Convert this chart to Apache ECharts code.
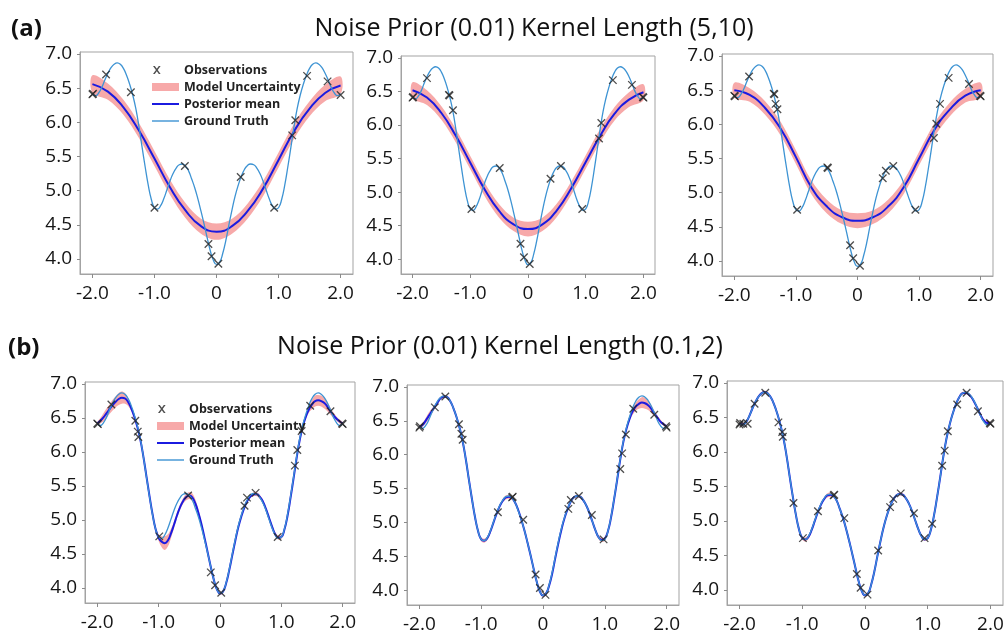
<!DOCTYPE html>
<html>
<head>
<meta charset="utf-8">
<script src="https://cdn.jsdelivr.net/npm/echarts@6/dist/echarts.min.js"></script>
<style>
  html, body { margin: 0; padding: 0; background: #ffffff; }
  #chart { width: 1008px; height: 634px; }
</style>
</head>
<body>
<div id="chart"></div>
<script>
// ---- data ----------------------------------------------------------------
// fine x grid used by the ground truth and the row (b) posterior curves
const xFine = [
  -2.00, -1.95, -1.90, -1.85, -1.80, -1.75, -1.70, -1.65, -1.60, -1.55,
  -1.50, -1.45, -1.40, -1.35, -1.30, -1.25, -1.20, -1.15, -1.10, -1.05,
  -1.00, -0.95, -0.90, -0.85, -0.80, -0.75, -0.70, -0.65, -0.60, -0.55,
  -0.50, -0.45, -0.40, -0.35, -0.30, -0.25, -0.20, -0.15, -0.10, -0.05,
   0.00,  0.05,  0.10,  0.15,  0.20,  0.25,  0.30,  0.35,  0.40,  0.45,
   0.50,  0.55,  0.60,  0.65,  0.70,  0.75,  0.80,  0.85,  0.90,  0.95,
   1.00,  1.05,  1.10,  1.15,  1.20,  1.25,  1.30,  1.35,  1.40,  1.45,
   1.50,  1.55,  1.60,  1.65,  1.70,  1.75,  1.80,  1.85,  1.90,  1.95, 2.00
];

const groundTruth = [
  6.42, 6.39, 6.43, 6.51, 6.62, 6.72, 6.80, 6.85, 6.87, 6.85,
  6.79, 6.69, 6.56, 6.40, 6.20, 5.94, 5.64, 5.35, 5.08, 4.87,
  4.75, 4.73, 4.78, 4.88, 5.01, 5.14, 5.25, 5.33, 5.38, 5.39,
  5.36, 5.29, 5.17, 5.04, 4.88, 4.70, 4.51, 4.31, 4.12, 3.98,
  3.92, 3.95, 4.08, 4.27, 4.50, 4.72, 4.92, 5.08, 5.21, 5.31,
  5.37, 5.39, 5.38, 5.33, 5.25, 5.14, 5.01, 4.88, 4.78, 4.73,
  4.75, 4.87, 5.08, 5.35, 5.64, 5.94, 6.20, 6.40, 6.56, 6.69,
  6.79, 6.85, 6.87, 6.85, 6.80, 6.72, 6.62, 6.51, 6.43, 6.39, 6.42
];

// coarse x grid for the long-kernel posteriors of row (a)
const xCoarse = [-2.0, -1.75, -1.5, -1.25, -1.0, -0.75, -0.5, -0.25, 0.0,
                 0.25, 0.5, 0.75, 1.0, 1.25, 1.5, 1.75, 2.0];

const meanA1  = [6.56, 6.45, 6.22, 5.88, 5.47, 5.05, 4.71, 4.48, 4.40, 4.48, 4.70, 5.03, 5.45, 5.87, 6.20, 6.43, 6.54];
const sigmaA1 = [0.13, 0.12, 0.11, 0.11, 0.11, 0.11, 0.11, 0.11, 0.12, 0.11, 0.11, 0.11, 0.11, 0.11, 0.11, 0.12, 0.13];
const meanA2  = [6.52, 6.41, 6.18, 5.84, 5.44, 5.04, 4.72, 4.52, 4.45, 4.52, 4.73, 5.06, 5.45, 5.84, 6.17, 6.38, 6.49];
const sigmaA2 = [0.12, 0.11, 0.10, 0.10, 0.10, 0.10, 0.10, 0.10, 0.11, 0.10, 0.10, 0.10, 0.10, 0.10, 0.10, 0.11, 0.12];
const meanA3  = [6.50, 6.43, 6.24, 5.94, 5.52, 5.08, 4.80, 4.64, 4.59, 4.64, 4.80, 5.08, 5.50, 5.92, 6.22, 6.42, 6.50];
const sigmaA3 = [0.11, 0.10, 0.10, 0.10, 0.10, 0.10, 0.10, 0.10, 0.11, 0.10, 0.10, 0.10, 0.10, 0.10, 0.10, 0.10, 0.11];

const meanB1 = [
  6.42, 6.46, 6.51, 6.57, 6.63, 6.69, 6.74, 6.78, 6.80, 6.79,
  6.74, 6.65, 6.53, 6.38, 6.19, 5.94, 5.65, 5.36, 5.09, 4.87,
  4.74, 4.68, 4.66, 4.70, 4.80, 4.93, 5.07, 5.19, 5.28, 5.34,
  5.36, 5.33, 5.24, 5.10, 4.93, 4.73, 4.52, 4.31, 4.12, 3.98,
  3.92, 3.95, 4.07, 4.26, 4.48, 4.70, 4.90, 5.06, 5.19, 5.29,
  5.35, 5.38, 5.38, 5.34, 5.27, 5.16, 5.03, 4.90, 4.79, 4.74,
  4.75, 4.86, 5.06, 5.33, 5.62, 5.92, 6.18, 6.38, 6.52, 6.63,
  6.70, 6.75, 6.76, 6.75, 6.72, 6.67, 6.60, 6.54, 6.49, 6.45, 6.42
];
const sigmaB1 = [
  0.02, 0.04, 0.06, 0.07, 0.07, 0.08, 0.08, 0.09, 0.09, 0.08,
  0.06, 0.04, 0.03, 0.02, 0.02, 0.02, 0.02, 0.02, 0.02, 0.03,
  0.05, 0.08, 0.10, 0.09, 0.07, 0.05, 0.04, 0.04, 0.04, 0.05,
  0.05, 0.06, 0.06, 0.05, 0.04, 0.03, 0.02, 0.02, 0.02, 0.02,
  0.02, 0.02, 0.02, 0.02, 0.02, 0.02, 0.02, 0.02, 0.02, 0.02,
  0.02, 0.03, 0.03, 0.03, 0.03, 0.03, 0.03, 0.03, 0.03, 0.03,
  0.03, 0.02, 0.02, 0.02, 0.02, 0.02, 0.02, 0.02, 0.03, 0.05,
  0.07, 0.08, 0.08, 0.08, 0.08, 0.07, 0.05, 0.04, 0.03, 0.03, 0.02
];
const meanB2 = [
  6.41, 6.44, 6.50, 6.57, 6.64, 6.71, 6.78, 6.84, 6.86, 6.85,
  6.79, 6.69, 6.56, 6.40, 6.20, 5.94, 5.64, 5.35, 5.08, 4.87,
  4.75, 4.73, 4.77, 4.87, 5.00, 5.13, 5.24, 5.32, 5.37, 5.38,
  5.36, 5.29, 5.18, 5.04, 4.88, 4.70, 4.51, 4.31, 4.12, 3.98,
  3.92, 3.95, 4.07, 4.25, 4.48, 4.70, 4.90, 5.07, 5.20, 5.31,
  5.37, 5.39, 5.38, 5.33, 5.25, 5.14, 5.01, 4.88, 4.78, 4.74,
  4.76, 4.87, 5.07, 5.34, 5.63, 5.93, 6.19, 6.38, 6.53, 6.64,
  6.71, 6.75, 6.77, 6.76, 6.73, 6.68, 6.61, 6.55, 6.49, 6.45, 6.42
];
const sigmaB2 = [
  0.02, 0.03, 0.04, 0.05, 0.04, 0.03, 0.03, 0.02, 0.02, 0.02,
  0.02, 0.02, 0.02, 0.02, 0.02, 0.02, 0.02, 0.02, 0.02, 0.02,
  0.03, 0.03, 0.03, 0.03, 0.02, 0.02, 0.02, 0.02, 0.03, 0.03,
  0.03, 0.02, 0.02, 0.02, 0.02, 0.02, 0.02, 0.02, 0.02, 0.02,
  0.02, 0.03, 0.03, 0.03, 0.02, 0.02, 0.02, 0.02, 0.02, 0.02,
  0.02, 0.02, 0.02, 0.02, 0.02, 0.02, 0.02, 0.02, 0.03, 0.03,
  0.03, 0.02, 0.02, 0.02, 0.02, 0.02, 0.02, 0.02, 0.03, 0.05,
  0.06, 0.07, 0.08, 0.08, 0.07, 0.06, 0.04, 0.03, 0.03, 0.02, 0.02
];
const meanB3 = [
  6.41, 6.40, 6.43, 6.51, 6.62, 6.72, 6.80, 6.85, 6.87, 6.85,
  6.79, 6.69, 6.56, 6.40, 6.20, 5.94, 5.64, 5.35, 5.08, 4.87,
  4.75, 4.73, 4.77, 4.87, 5.00, 5.13, 5.24, 5.32, 5.37, 5.38,
  5.36, 5.29, 5.17, 5.04, 4.88, 4.70, 4.51, 4.31, 4.12, 3.98,
  3.92, 3.95, 4.08, 4.27, 4.50, 4.72, 4.92, 5.08, 5.21, 5.31,
  5.37, 5.39, 5.38, 5.33, 5.25, 5.14, 5.01, 4.88, 4.78, 4.73,
  4.75, 4.87, 5.08, 5.35, 5.64, 5.94, 6.20, 6.40, 6.56, 6.69,
  6.79, 6.85, 6.86, 6.84, 6.79, 6.71, 6.62, 6.52, 6.45, 6.42, 6.42
];
const sigmaB3 = [
  0.02, 0.02, 0.02, 0.02, 0.02, 0.02, 0.02, 0.02, 0.02, 0.02,
  0.02, 0.02, 0.02, 0.02, 0.02, 0.02, 0.02, 0.02, 0.02, 0.02,
  0.02, 0.03, 0.03, 0.03, 0.02, 0.02, 0.02, 0.02, 0.03, 0.03,
  0.02, 0.02, 0.02, 0.02, 0.02, 0.02, 0.02, 0.02, 0.02, 0.02,
  0.02, 0.02, 0.02, 0.02, 0.02, 0.02, 0.02, 0.02, 0.02, 0.02,
  0.02, 0.02, 0.02, 0.02, 0.02, 0.02, 0.02, 0.02, 0.02, 0.02,
  0.02, 0.02, 0.02, 0.02, 0.02, 0.02, 0.02, 0.02, 0.02, 0.02,
  0.02, 0.02, 0.02, 0.02, 0.02, 0.02, 0.03, 0.03, 0.03, 0.03, 0.02
];

// observed training points [x, y]
const obsA1 = [[-2.0, 6.41], [-1.99, 6.42], [-1.78, 6.70], [-1.38, 6.44], [-1.0, 4.75], [-0.51, 5.36],
  [-0.13, 4.22], [-0.08, 4.04], [0.03, 3.93], [0.39, 5.20], [0.93, 4.75], [1.22, 5.81], [1.27, 6.03],
  [1.46, 6.68], [1.79, 6.60], [2.0, 6.40]];
const obsA2 = [[-2.0, 6.41], [-1.99, 6.42], [-1.75, 6.70], [-1.37, 6.45], [-1.36, 6.44], [-1.30, 6.22],
  [-0.98, 4.75], [-0.49, 5.36], [-0.13, 4.23], [-0.07, 4.03], [0.03, 3.93], [0.39, 5.20], [0.57, 5.39],
  [0.94, 4.75], [1.23, 5.80], [1.27, 6.03], [1.47, 6.67], [1.80, 6.60], [2.0, 6.41], [1.99, 6.42]];
const obsA3 = [[-1.99, 6.41], [-2.0, 6.42], [-1.76, 6.70], [-1.36, 6.45], [-1.35, 6.44], [-1.33, 6.30],
  [-1.30, 6.22], [-0.98, 4.75], [-0.49, 5.37], [-0.48, 5.36], [-0.12, 4.23], [-0.07, 4.04], [0.04, 3.93],
  [0.41, 5.21], [0.46, 5.32], [0.58, 5.39], [0.94, 4.75], [1.24, 5.80], [1.28, 6.01], [1.34, 6.30],
  [1.48, 6.68], [1.81, 6.59], [2.0, 6.41], [1.99, 6.42]];
const obsB1 = [[-2.0, 6.42], [-1.99, 6.41], [-1.77, 6.70], [-1.38, 6.46], [-1.34, 6.30], [-1.33, 6.22],
  [-0.99, 4.76], [-0.52, 5.36], [-0.15, 4.23], [-0.08, 4.04], [0.02, 3.93], [0.40, 5.21], [0.44, 5.33],
  [0.58, 5.40], [0.94, 4.75], [1.22, 5.80], [1.26, 6.03], [1.33, 6.31], [1.47, 6.68], [1.80, 6.60],
  [2.0, 6.41], [1.99, 6.42]];
const obsB2 = [[-2.0, 6.40], [-1.99, 6.42], [-1.75, 6.70], [-1.58, 6.86], [-1.36, 6.45], [-1.32, 6.31],
  [-1.30, 6.22], [-0.73, 5.15], [-0.50, 5.37], [-0.49, 5.38], [-0.32, 5.04], [-0.12, 4.23], [-0.05, 4.03],
  [0.04, 3.93], [0.41, 5.20], [0.45, 5.33], [0.58, 5.39], [0.79, 5.11], [0.98, 4.75], [1.25, 5.79],
  [1.28, 6.02], [1.34, 6.30], [1.46, 6.68], [1.80, 6.59], [2.0, 6.40], [1.99, 6.42]];
const obsB3 = [[-2.0, 6.40], [-1.99, 6.42], [-1.94, 6.41], [-1.87, 6.41], [-1.76, 6.70], [-1.59, 6.86],
  [-1.38, 6.43], [-1.32, 6.29], [-1.31, 6.22], [-1.14, 5.26], [-0.99, 4.75], [-0.75, 5.14], [-0.50, 5.37],
  [-0.49, 5.38], [-0.33, 5.04], [-0.13, 4.23], [-0.07, 4.03], [0.04, 3.93], [0.21, 4.57], [0.40, 5.20],
  [0.45, 5.32], [0.57, 5.40], [0.78, 5.11], [0.95, 4.75], [1.07, 4.96], [1.23, 5.80], [1.27, 6.02],
  [1.32, 6.30], [1.47, 6.69], [1.62, 6.86], [1.80, 6.59], [2.0, 6.41], [1.99, 6.42]];

// axis ticks
const xTickValues = [-2, -1, 0, 1, 2];
const xTickLabels = ['-2.0', '-1.0', '0', '1.0', '2.0'];
const yTickValues = [4.0, 4.5, 5.0, 5.5, 6.0, 6.5, 7.0];
const yTickLabels = ['4.0', '4.5', '5.0', '5.5', '6.0', '6.5', '7.0'];

const titleA = 'Noise Prior (0.01) Kernel Length (5,10)';
const titleB = 'Noise Prior (0.01) Kernel Length (0.1,2)';
const legendNames = ['Observations', 'Model Uncertainty', 'Posterior mean', 'Ground Truth'];

// ---- styling / layout ----------------------------------------------------
const FONT = '"Open Sans", Lato, sans-serif';
const C_BAND = '#f7a9a9';
const C_MEAN = '#1b1be0';
const C_TRUTH = '#3d93d3';
const C_OBS = '#222222';
const C_FRAME = '#a3a3a3';

const panels = [
  { rect: { left: 80,  top: 52,  width: 273, height: 222 }, xs: xCoarse, mean: meanA1, sigma: sigmaA1, obs: obsA1 },
  { rect: { left: 401, top: 56,  width: 254, height: 218 }, xs: xCoarse, mean: meanA2, sigma: sigmaA2, obs: obsA2 },
  { rect: { left: 722, top: 54,  width: 271, height: 222 }, xs: xCoarse, mean: meanA3, sigma: sigmaA3, obs: obsA3 },
  { rect: { left: 85,  top: 382, width: 270, height: 221 }, xs: xFine,   mean: meanB1, sigma: sigmaB1, obs: obsB1 },
  { rect: { left: 407, top: 385, width: 272, height: 222 }, xs: xFine,   mean: meanB2, sigma: sigmaB2, obs: obsB2 },
  { rect: { left: 727, top: 381, width: 276, height: 224 }, xs: xFine,   mean: meanB3, sigma: sigmaB3, obs: obsB3 }
];

const X_SYMBOL = 'path://M0,0L10,10M10,0L0,10';
// legend glyphs drawn inside a 27x8 box
const X_ICON = 'path://M0,0M27,8M1,0L2.8,0L8.6,8L6.8,8ZM6.8,0L8.6,0L2.8,8L1,8Z';
const MEAN_ICON = 'path://M0,0M27,8M0,3L27,3L27,5L0,5Z';
const TRUTH_ICON = 'path://M0,0M27,8M0,3.3L27,3.3L27,4.7L0,4.7Z';

const grids = [], xAxes = [], yAxes = [], series = [];

panels.forEach((p, i) => {
  grids.push(Object.assign({ show: true, borderColor: C_FRAME, borderWidth: 1, containLabel: false }, p.rect));
  xAxes.push({
    type: 'value', gridIndex: i, min: -2.2, max: 2.2,
    splitLine: { show: false },
    axisLine: { show: true, onZero: false, lineStyle: { color: C_FRAME } },
    axisTick: { show: true, customValues: xTickValues, length: 4, lineStyle: { color: '#8a8a8a' } },
    axisLabel: {
      customValues: xTickValues, margin: 10, fontSize: 19, fontFamily: FONT, color: '#151515',
      formatter: v => { const k = xTickValues.findIndex(t => Math.abs(t - v) < 1e-9); return k >= 0 ? xTickLabels[k] : ''; }
    }
  });
  yAxes.push({
    type: 'value', gridIndex: i, min: 3.78, max: 7.03,
    splitLine: { show: false },
    axisLine: { show: true, onZero: false, lineStyle: { color: C_FRAME } },
    axisTick: { show: true, customValues: yTickValues, length: 3, lineStyle: { color: '#8a8a8a' } },
    axisLabel: {
      customValues: yTickValues, margin: 8, fontSize: 19, fontFamily: FONT, color: '#151515',
      formatter: v => { const k = yTickValues.findIndex(t => Math.abs(t - v) < 1e-9); return k >= 0 ? yTickLabels[k] : ''; }
    }
  });

  // uncertainty band: mean ± sigma, drawn as one filled outline through the axis scales
  const bandRows = p.xs.map((x, k) => [x, p.mean[k] - p.sigma[k], p.mean[k] + p.sigma[k]]);
  series.push({
    type: 'custom', name: legendNames[1], coordinateSystem: 'cartesian2d',
    xAxisIndex: i, yAxisIndex: i, data: bandRows, encode: { x: 0, y: [1, 2] },
    itemStyle: { color: C_BAND }, silent: true, z: 1,
    renderItem: (params, api) => {
      if (params.dataIndex !== 0) return null;
      const upper = bandRows.map(r => api.coord([r[0], r[2]]));
      const lower = bandRows.map(r => api.coord([r[0], r[1]])).reverse();
      return {
        type: 'polygon',
        shape: { points: upper.concat(lower), smooth: 0.35 },
        style: { fill: C_BAND, stroke: null }
      };
    }
  });
  series.push({
    type: 'line', name: legendNames[2], xAxisIndex: i, yAxisIndex: i,
    data: p.xs.map((x, k) => [x, p.mean[k]]),
    smooth: true, symbol: 'none', silent: true,
    itemStyle: { color: C_MEAN }, lineStyle: { color: C_MEAN, width: 2 }, z: 2
  });
  series.push({
    type: 'line', name: legendNames[3], xAxisIndex: i, yAxisIndex: i,
    data: xFine.map((x, k) => [x, groundTruth[k]]),
    smooth: true, symbol: 'none', silent: true,
    itemStyle: { color: C_TRUTH }, lineStyle: { color: C_TRUTH, width: 1.3 }, z: 3
  });
  series.push({
    type: 'scatter', name: legendNames[0], xAxisIndex: i, yAxisIndex: i, data: p.obs,
    symbol: X_SYMBOL, symbolSize: 7.5, silent: true,
    itemStyle: { color: 'rgba(0,0,0,0)', borderColor: C_OBS, borderWidth: 1.3 }, z: 4
  });
});

function legendAt(left, top) {
  return {
    orient: 'vertical', left: left, top: top, padding: 0,
    itemWidth: 27, itemHeight: 8, itemGap: 3, selectedMode: false,
    textStyle: { fontFamily: FONT, fontSize: 12.5, fontWeight: 'bold', color: '#222', lineHeight: 14 },
    data: [
      { name: legendNames[0], icon: X_ICON, itemStyle: { color: C_OBS, borderWidth: 0 } },
      { name: legendNames[1], icon: 'rect', itemStyle: { color: C_BAND, borderWidth: 0 } },
      { name: legendNames[2], icon: MEAN_ICON, itemStyle: { color: C_MEAN, borderWidth: 0 } },
      { name: legendNames[3], icon: TRUTH_ICON, itemStyle: { color: C_TRUTH, borderWidth: 0 } }
    ]
  };
}

const headings = [
  { text: '(a)', x: 11, y: 29, align: 'left', size: 24, weight: 'bold' },
  { text: titleA, x: 534, y: 29, align: 'center', size: 25, weight: 'normal' },
  { text: '(b)', x: 8, y: 348, align: 'left', size: 24, weight: 'bold' },
  { text: titleB, x: 500, y: 347, align: 'center', size: 25, weight: 'normal' }
];

const chart = echarts.init(document.getElementById('chart'), null, { renderer: 'canvas' });
chart.setOption({
  animation: false,
  backgroundColor: '#ffffff',
  grid: grids,
  xAxis: xAxes,
  yAxis: yAxes,
  legend: [legendAt(152, 63), legendAt(157, 402)],
  graphic: headings.map(h => ({
    type: 'text', x: h.x, y: h.y, silent: true,
    style: { text: h.text, fill: '#111', fontFamily: FONT, fontSize: h.size, fontWeight: h.weight,
             align: h.align, verticalAlign: 'middle' }
  })),
  series: series
});
</script>
</body>
</html>
